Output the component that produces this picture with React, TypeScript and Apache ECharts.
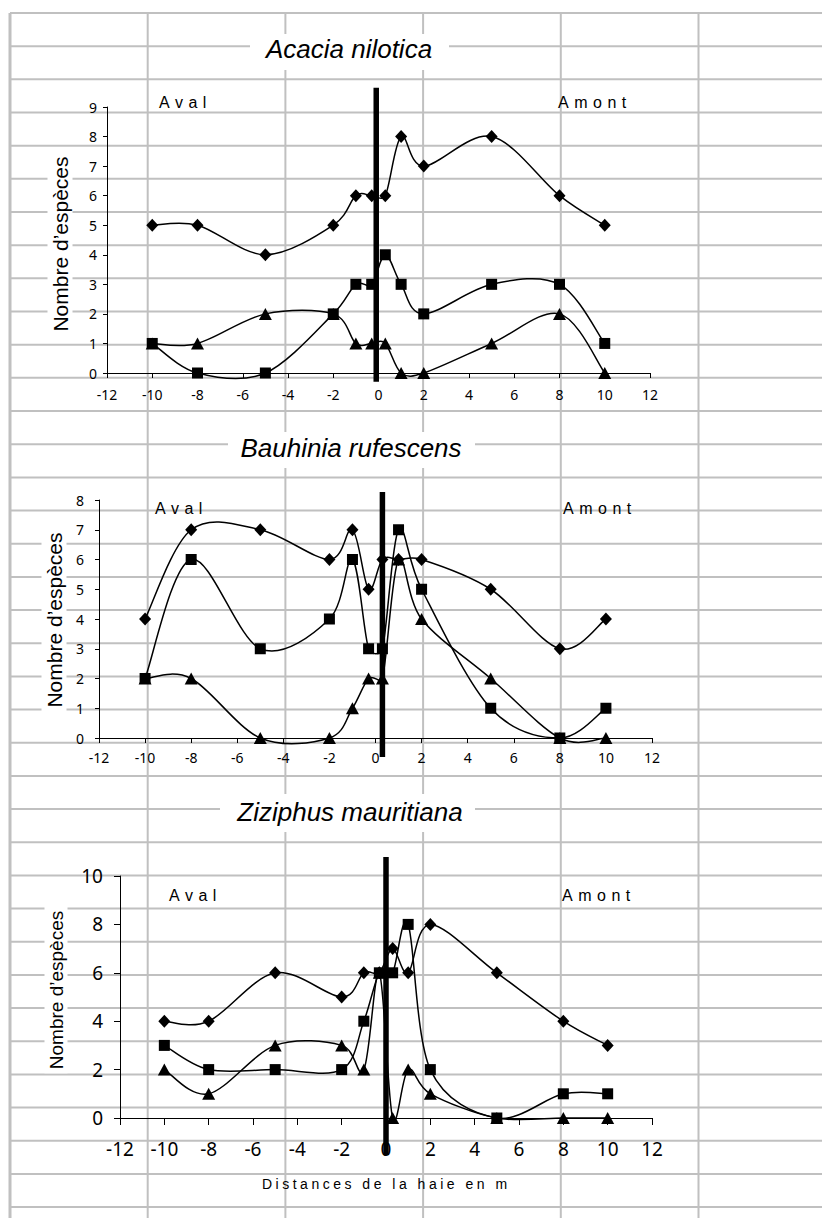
import React, { useEffect, useRef } from "react";
import * as echarts from "echarts";

// ---- data ----
const xPositions = [-10, -8, -5, -2, -1, -0.3, 0.3, 1, 2, 5, 8, 10];

const acaciaDiamond = [5, 5, 4, 5, 6, 6, 6, 8, 7, 8, 6, 5];
const acaciaTriangle = [1, 1, 2, 2, 1, 1, 1, 0, 0, 1, 2, 0];
const acaciaSquare = [1, 0, 0, 2, 3, 3, 4, 3, 2, 3, 3, 1];

const bauhiniaDiamond = [4, 7, 7, 6, 7, 5, 6, 6, 6, 5, 3, 4];
const bauhiniaTriangle = [2, 2, 0, 0, 1, 2, 2, 6, 4, 2, 0, 0];
const bauhiniaSquare = [2, 6, 3, 4, 6, 3, 3, 7, 5, 1, 0, 1];

const ziziphusDiamond = [4, 4, 6, 5, 6, 6, 7, 6, 8, 6, 4, 3];
const ziziphusTriangle = [2, 1, 3, 3, 2, 6, 0, 2, 1, 0, 0, 0];
const ziziphusSquare = [3, 2, 2, 2, 4, 6, 6, 8, 2, 0, 1, 1];

const titles = ["Acacia nilotica", "Bauhinia rufescens", "Ziziphus mauritiana"];
const yMaxes = [9, 8, 10];
const yIntervals = [1, 1, 2];
const xMin = -12;
const xMax = 12;
const xInterval = 2;
// hedge line (vertical bar): x value and y extent
const hedgeX = [-0.1, 0.3, 0];
const hedgeYLow = [-0.3, -0.64, -1.53];
const hedgeYHigh = [9.65, 8.27, 10.79];

const yName = "Nombre d’espèces";
const xName = "Distances de la haie en m";
const avalLabel = "Aval";
const amontLabel = "Amont";

const chartData = [
  [acaciaDiamond, acaciaTriangle, acaciaSquare],
  [bauhiniaDiamond, bauhiniaTriangle, bauhiniaSquare],
  [ziziphusDiamond, ziziphusTriangle, ziziphusSquare],
];

// ---- layout ----
const grids = [
  { left: 107, top: 107, width: 543, height: 266 },
  { left: 99, top: 500, width: 553, height: 238 },
  { left: 120, top: 876, width: 532, height: 242 },
];
const titlePos = [
  { x: 349, y: 49, box: [250, 34, 199, 36] },
  { x: 351, y: 448, box: [228, 432, 247, 36] },
  { x: 350, y: 812, box: [220, 794, 255, 38] },
];
const yNamePos = [
  { x: 60, y: 244, size: 21 },
  { x: 54, y: 620, size: 21 },
  { x: 56, y: 990, size: 19 },
];
const avalPos = [
  { x: 159, y: 102 },
  { x: 155, y: 508 },
  { x: 169, y: 895 },
];
const amontPos = [
  { x: 558, y: 102 },
  { x: 563, y: 508 },
  { x: 562, y: 895 },
];

const symbolDefs = [
  { symbol: "diamond", size: [12, 13] },
  { symbol: "triangle", size: [13, 12] },
  { symbol: "rect", size: [11, 11] },
];

const GRID_COLOR = "#c0c0c0";
const SHEET_COLS = [10, 147.7, 285.4, 423.1, 560.8, 698.5];
const SHEET_ROW_START = 13;
const SHEET_ROW_STEP = 33.17;
const SHEET_ROW_COUNT = 37;

const TICK_FONT = "'Noto Sans', 'Open Sans', sans-serif";

function dist(a: number[], b: number[]) {
  const dx = a[0] - b[0];
  const dy = a[1] - b[1];
  return Math.sqrt(dx * dx + dy * dy);
}

// Excel-like smoothed segment (Bezier) between p1 and p2
function excelSegment(p0: number[], p1: number[], p2: number[], p3: number[]) {
  const t = 1 / 6;
  const d02 = dist(p0, p2);
  const d12 = dist(p1, p2);
  const d13 = dist(p1, p3);
  let f0 = t;
  let f1 = t;
  if (d02 * t >= d12 / 2 && d02 > 0) f0 = d12 / d02 / 2;
  if (d13 * t >= d12 / 2 && d13 > 0) f1 = d12 / d13 / 2;
  return {
    x1: p1[0],
    y1: p1[1],
    cpx1: p1[0] + (p2[0] - p0[0]) * f0,
    cpy1: p1[1] + (p2[1] - p0[1]) * f0,
    cpx2: p2[0] - (p3[0] - p1[0]) * f1,
    cpy2: p2[1] - (p3[1] - p1[1]) * f1,
    x2: p2[0],
    y2: p2[1],
  };
}

function curveSeries(i: number, vals: number[]) {
  const pts = xPositions.map((x, j) => [x, vals[j]]);
  const n = pts.length;
  return {
    type: "custom",
    coordinateSystem: "cartesian2d",
    xAxisIndex: i,
    yAxisIndex: i,
    z: 4,
    clip: false,
    silent: true,
    encode: { x: 0, y: 1 },
    data: pts,
    renderItem: (params: any, api: any) => {
      const k = params.dataIndex;
      if (k >= n - 1) return { type: "group", children: [] };
      const P = (m: number) => api.coord(pts[Math.max(0, Math.min(n - 1, m))]);
      const shape = excelSegment(P(k - 1), P(k), P(k + 1), P(k + 2));
      return {
        type: "bezierCurve",
        shape,
        style: { stroke: "#000", lineWidth: 1.5, fill: "none" },
      };
    },
  };
}

function buildOption() {
  const graphic: any[] = [];
  // spreadsheet grid
  for (let i = 0; i < SHEET_COLS.length; i++) {
    graphic.push({
      type: "line",
      z: 0,
      shape: { x1: SHEET_COLS[i], y1: SHEET_ROW_START, x2: SHEET_COLS[i], y2: 1218 },
      style: { stroke: GRID_COLOR, lineWidth: i === 0 ? 3 : 2 },
      silent: true,
    });
  }
  for (let k = 0; k < SHEET_ROW_COUNT; k++) {
    const y = SHEET_ROW_START + k * SHEET_ROW_STEP;
    graphic.push({
      type: "line",
      z: 0,
      shape: { x1: SHEET_COLS[0], y1: y, x2: 822, y2: y },
      style: { stroke: GRID_COLOR, lineWidth: 2 },
      silent: true,
    });
  }
  titles.forEach((t, i) => {
    const p = titlePos[i];
    graphic.push({
      type: "rect",
      z: 1,
      shape: { x: p.box[0], y: p.box[1], width: p.box[2], height: p.box[3] },
      style: { fill: "#fff" },
      silent: true,
    });
    graphic.push({
      type: "text",
      z: 2,
      x: p.x,
      y: p.y,
      style: {
        text: t,
        fontFamily: "'Liberation Sans', Arial, sans-serif",
        fontStyle: "italic",
        fontSize: 26,
        fill: "#000",
        textAlign: "center",
        textVerticalAlign: "middle",
      },
    });
    const yn = yNamePos[i];
    graphic.push({
      type: "text",
      z: 2,
      x: yn.x,
      y: yn.y,
      rotation: Math.PI / 2,
      style: {
        text: yName,
        fontFamily: "'Liberation Sans', Arial, sans-serif",
        fontSize: yn.size,
        fill: "#000",
        textAlign: "center",
        textVerticalAlign: "middle",
        backgroundColor: "#fff",
        padding: [2, 4, 2, 4],
      },
    });
    [
      { pos: avalPos[i], text: avalLabel },
      { pos: amontPos[i], text: amontLabel },
    ].forEach((lab) => {
      graphic.push({
        type: "text",
        z: 2,
        x: lab.pos.x,
        y: lab.pos.y,
        style: {
          text: lab.text,
          fontFamily: "'Liberation Sans', spacedA, sans-serif",
          fontSize: 16,
          fill: "#000",
          textAlign: "left",
          textVerticalAlign: "middle",
        },
      });
    });
  });
  graphic.push({
    type: "text",
    z: 2,
    x: 262,
    y: 1184,
    style: {
      text: xName,
      fontFamily: "'Liberation Sans', spacedB, sans-serif",
      fontSize: 14,
      fill: "#000",
      textAlign: "left",
      textVerticalAlign: "middle",
    },
  });

  const big = [false, false, true];
  const xAxis = grids.map((_, i) => ({
    type: "value",
    gridIndex: i,
    min: xMin,
    max: xMax,
    interval: xInterval,
    z: 3,
    axisLine: { show: true, onZero: false, lineStyle: { color: "#000", width: 1 } },
    axisTick: { show: true, length: big[i] ? 7 : 5, lineStyle: { color: "#000", width: 1 } },
    axisLabel: {
      color: "#000",
      fontFamily: TICK_FONT,
      fontSize: big[i] ? 19 : 14,
      margin: big[i] ? 21 : i === 0 ? 14 : 12,
      showMinLabel: true,
      showMaxLabel: true,
    },
    splitLine: { show: false },
  }));
  const yMargins = [10, 15, 17];
  const yAxis = grids.map((_, i) => ({
    type: "value",
    gridIndex: i,
    min: 0,
    max: yMaxes[i],
    interval: yIntervals[i],
    z: 3,
    axisLine: { show: true, onZero: false, lineStyle: { color: "#000", width: 1 } },
    axisTick: { show: true, length: big[i] ? 6 : 4, lineStyle: { color: "#000", width: 1 } },
    axisLabel: {
      color: "#000",
      fontFamily: TICK_FONT,
      fontSize: big[i] ? 19 : 14,
      margin: yMargins[i],
      showMinLabel: true,
      showMaxLabel: true,
    },
    splitLine: { show: false },
  }));

  const series: any[] = [];
  chartData.forEach((sets, i) => {
    sets.forEach((vals, s) => {
      series.push(curveSeries(i, vals));
      series.push({
        type: "scatter",
        xAxisIndex: i,
        yAxisIndex: i,
        z: 4,
        clip: false,
        silent: true,
        symbol: symbolDefs[s].symbol,
        symbolSize: symbolDefs[s].size,
        itemStyle: { color: "#000", borderWidth: 0, opacity: 1 },
        data: xPositions.map((x, j) => [x, vals[j]]),
      });
    });
    series.push({
      type: "line",
      xAxisIndex: i,
      yAxisIndex: i,
      z: 5,
      symbol: "none",
      clip: false,
      silent: true,
      lineStyle: { color: "#000", width: 5.5 },
      data: [
        [hedgeX[i], hedgeYLow[i]],
        [hedgeX[i], hedgeYHigh[i]],
      ],
    });
  });

  return {
    animation: false,
    backgroundColor: "#fff",
    grid: grids.map((g) => ({ ...g, containLabel: false, outerBoundsMode: "none" })),
    xAxis,
    yAxis,
    series,
    graphic: { elements: graphic },
  };
}

export default function App() {
  const ref = useRef<HTMLDivElement>(null);
  useEffect(() => {
    if (!ref.current) return;
    const chart = echarts.init(ref.current, undefined, { renderer: "svg" });
    chart.setOption(buildOption() as any);
    return () => chart.dispose();
  }, []);
  return (
    <>
      <style>{`text[style*="spacedA"]{letter-spacing:5.5px;}text[style*="spacedB"]{letter-spacing:3.5px;}`}</style>
      <div
        ref={ref}
        style={{ position: "fixed", left: 0, top: 0, width: 822, height: 1218 }}
      />
    </>
  );
}
